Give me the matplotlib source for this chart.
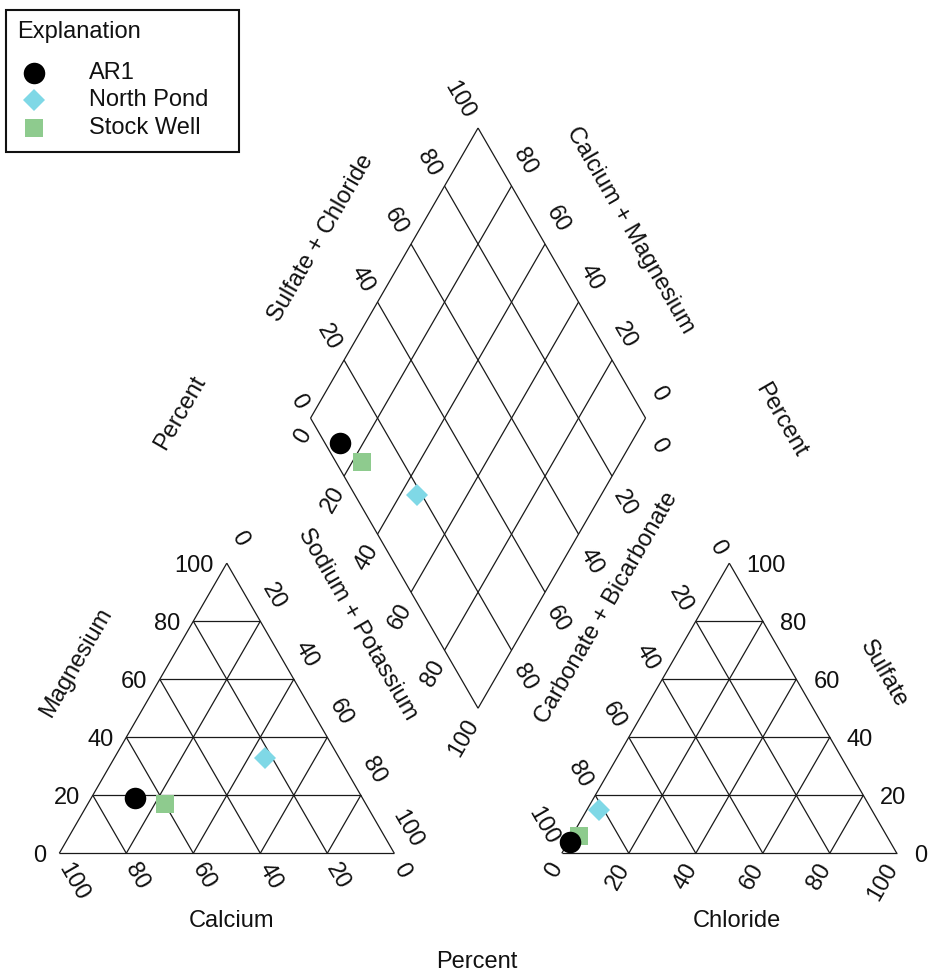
import numpy as np
import matplotlib
matplotlib.use("Agg")
import matplotlib.pyplot as plt
from matplotlib.patches import Rectangle
from matplotlib.lines import Line2D

# ---- sample chemistry (percent of milliequivalents) ----
samples = ["AR1", "North Pond", "Stock Well"]
calcium = [68.0, 22.0, 60.0]
magnesium = [19.0, 33.0, 17.0]
sodium_potassium = [13.0, 45.0, 23.0]
carbonate_bicarbonate = [95.5, 81.5, 92.0]
sulfate = [4.0, 15.0, 6.0]
chloride = [0.5, 3.5, 2.0]

marker_styles = ["o", "D", "s"]
marker_colors = ["#000000", "#7fd8e6", "#8ecb8e"]
marker_sizes = [15.5, 11.5, 13.0]
draw_order = [2, 1, 0]  # circles end up on top

tick_values = [0, 20, 40, 60, 80, 100]

# ---- geometry ----
H = np.sqrt(3) / 2
GAP = 0.5
RX = 1 + GAP                      # left corner of the anion triangle
B = np.array([1 + GAP / 2, H * GAP])  # bottom corner of the diamond
U = np.array([-0.5, H])
V = np.array([0.5, H])

W_PX, H_PX = 936, 974
S = 335.0            # pixels per unit side
OX, OY = 59.3, 853.3  # pixel position of the cation triangle's lower-left corner

NUM_FONT = ["Liberation Sans Narrow", "Liberation Sans", "DejaVu Sans"]
TXT_FONT = ["Liberation Sans", "DejaVu Sans"]
FS = 17
LINE_KW = dict(color="#1a1a1a", lw=0.9, solid_capstyle="butt")


def px(xp, yp):
    """pixel position -> data coordinates"""
    return (xp - OX) / S, (OY - yp) / S


def cation_xy(ca, mg, nak):
    t = ca + mg + nak
    return np.array([(nak + mg / 2) / t, H * mg / t])


def anion_xy(co3, so4, cl):
    t = co3 + so4 + cl
    return np.array([RX + (cl + so4 / 2) / t, H * so4 / t])


def diamond_xy(nak, so4cl):
    return B + (1 - nak / 100.0) * U + (so4cl / 100.0) * V


def project(p, q):
    """Intersect the line from p along V with the line from q along U."""
    m = np.column_stack([V, -U])
    a, _ = np.linalg.solve(m, q - p)
    return p + a * V


fig = plt.figure(figsize=(W_PX / 100, H_PX / 100), dpi=100)
ax = fig.add_axes([0, 0, 1, 1])
x0, y0 = px(0, H_PX)
x1, y1 = px(W_PX, 0)
ax.set_xlim(x0, x1)
ax.set_ylim(y0, y1)
ax.axis("off")


def seg(p, q):
    ax.plot([p[0], q[0]], [p[1], q[1]], **LINE_KW)


# ---- cation triangle ----
seg(cation_xy(100, 0, 0), cation_xy(0, 0, 100))
seg(cation_xy(100, 0, 0), cation_xy(0, 100, 0))
seg(cation_xy(0, 100, 0), cation_xy(0, 0, 100))
for k in tick_values[1:-1]:
    seg(cation_xy(100 - k, k, 0), cation_xy(0, k, 100 - k))
    seg(cation_xy(100 - k, 0, k), cation_xy(0, 100 - k, k))
    seg(cation_xy(k, 100 - k, 0), cation_xy(k, 0, 100 - k))

# ---- anion triangle ----
seg(anion_xy(100, 0, 0), anion_xy(0, 0, 100))
seg(anion_xy(100, 0, 0), anion_xy(0, 100, 0))
seg(anion_xy(0, 100, 0), anion_xy(0, 0, 100))
for k in tick_values[1:-1]:
    seg(anion_xy(100 - k, k, 0), anion_xy(0, k, 100 - k))
    seg(anion_xy(100 - k, 0, k), anion_xy(0, 100 - k, k))
    seg(anion_xy(k, 100 - k, 0), anion_xy(k, 0, 100 - k))

# ---- diamond ----
for k in tick_values:
    seg(diamond_xy(k, 0), diamond_xy(k, 100))
    seg(diamond_xy(0, k), diamond_xy(100, k))


# ---- tick labels ----
def edge_labels(points, values, direction, dist_px, rot, ha):
    d = np.asarray(direction, float)
    d = d / np.linalg.norm(d)
    for p, val in zip(points, values):
        ax.text(p[0] + d[0] * dist_px / S, p[1] + d[1] * dist_px / S, str(val),
                rotation=rot, rotation_mode="anchor", ha=ha, va="center_baseline",
                fontsize=FS, family=NUM_FONT, color="#111111")


tv = tick_values
edge_labels([cation_xy(100 - m, m, 0) for m in tv], tv, (-1, 0), 13, 0, "right")
edge_labels([cation_xy(c, 0, 100 - c) for c in tv], tv, (0.5, -H), 12, -60, "left")
edge_labels([cation_xy(0, 100 - n, n) for n in tv], tv, (0.5, H), 30, -60, "center")

edge_labels([anion_xy(100 - c, 0, c) for c in tv], tv, (-0.5, -H), 12, 60, "right")
edge_labels([anion_xy(k, 100 - k, 0) for k in tv], tv, (-0.5, H), 13, -60, "right")
edge_labels([anion_xy(0, s, 100 - s) for s in tv], tv, (1, 0), 17, 0, "left")

edge_labels([diamond_xy(0, s) for s in tv], tv, (-0.5, H), 14, -60, "right")
edge_labels([diamond_xy(100 - c, 100) for c in tv[:-1]], tv[:-1], (0.5, H), 30, -60, "center")
edge_labels([diamond_xy(n, 0) for n in tv], tv, (-0.5, -H), 13, 60, "right")
edge_labels([diamond_xy(100, 100 - k) for k in tv[:-1]], tv[:-1], (0.5, -H), 30, -60, "center")


# ---- axis titles ----
def title(text, xp, yp, rot=0):
    x, y = px(xp, yp)
    ax.text(x, y, text, rotation=rot, rotation_mode="anchor", ha="center",
            va="center", fontsize=FS, family=TXT_FONT, color="#111111")


title("Magnesium", 76.5, 663, 60)
title("Calcium", 231, 921)
title("Chloride", 737, 921)
title("Percent", 477, 962)
title("Sodium + Potassium", 357.5, 624, -60)
title("Carbonate + Bicarbonate", 606.5, 608, 60)
title("Sulfate + Chloride", 321.5, 238.5, 60)
title("Calcium + Magnesium", 630, 230, -60)
title("Percent", 180, 413, 60)
title("Percent", 781, 420, -60)
title("Sulfate", 883.5, 673.5, -60)

# ---- samples ----
for i in draw_order:
    p = cation_xy(calcium[i], magnesium[i], sodium_potassium[i])
    q = anion_xy(carbonate_bicarbonate[i], sulfate[i], chloride[i])
    d = project(p, q)
    for pt in (p, q, d):
        ax.plot(pt[0], pt[1], marker=marker_styles[i], ms=marker_sizes[i],
                color=marker_colors[i], mec=marker_colors[i], mew=0, ls="none",
                zorder=5)

# ---- explanation box (pixel layout) ----
lax = fig.add_axes([0, 0, 1, 1])
lax.set_xlim(0, W_PX)
lax.set_ylim(H_PX, 0)
lax.axis("off")
lax.patch.set_alpha(0)
lax.add_patch(Rectangle((6, 9.5), 233, 142, fill=False, ec="#111111", lw=1.5))
lax.text(17, 32, "Explanation", ha="left", va="center", fontsize=FS,
         family=TXT_FONT, color="#111111")
rows_y = [73, 99.5, 127.5]
for i, name in enumerate(samples):
    lax.plot(33.5, rows_y[i], marker=marker_styles[i], ms=marker_sizes[i],
             color=marker_colors[i], mew=0, ls="none")
    lax.text(89, rows_y[i], name, ha="left", va="center", fontsize=FS,
             family=TXT_FONT, color="#111111")

fig.savefig("out.png", dpi=100)
